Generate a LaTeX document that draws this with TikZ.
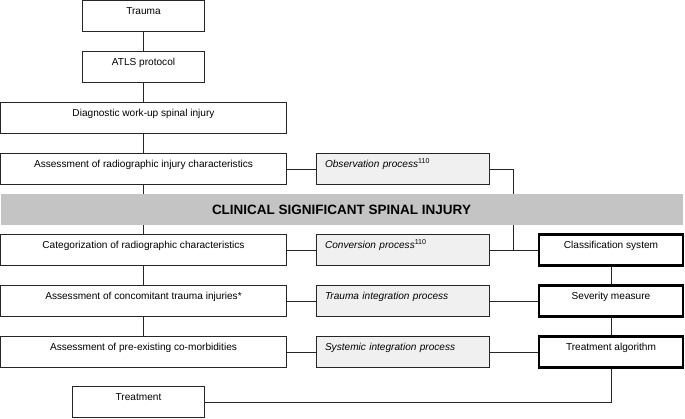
\documentclass[tikz,border=0pt]{standalone}
\usepackage{fontspec}
\setmainfont{Liberation Sans}
\usepackage{tikz}
\usetikzlibrary{calc}

\tikzset{
  stepbox/.style={draw=black!85,line width=0.8pt,minimum height=31pt,inner ysep=4pt,
    text height=10pt,text depth=13pt,font=\fontsize{10.1}{12}\selectfont},
  widebox/.style={stepbox,minimum width=286pt},
  smallbox/.style={stepbox,minimum width=122pt},
  procbox/.style={stepbox,fill=black!6,text width=155pt,inner xsep=9pt,align=left,
    font=\fontsize{10.1}{12}\selectfont\itshape},
  sysbox/.style={stepbox,line width=2.4pt,draw=black,minimum width=144pt},
  band/.style={fill=black!23,draw=none,minimum width=682pt,minimum height=31pt,
    font=\fontsize{13.5}{15}\selectfont\bfseries}
}

\begin{document}
\begin{tikzpicture}[x=1pt,y=1pt,auto,node distance=51pt,line width=0.8pt,draw=black!85]
		\useasboundingbox (0,0) rectangle (685,-418);
		\node[smallbox]      (trauma)  at (143.5,-16)                              {Trauma};
		\node[smallbox]      (atls)    [below of=trauma]                           {ATLS protocol};
		\node[widebox]       (diag)    [below of=atls]                             {Diagnostic work-up spinal injury};
		\node[widebox]       (assess)  [below of=diag]                             {Assessment of radiographic injury characteristics};
		\node[widebox]       (cat)     [node distance=81pt,below of=assess]        {Categorization of radiographic characteristics};
		\node[widebox]       (conc)    [below of=cat]                              {Assessment of concomitant trauma injuries*};
		\node[widebox]       (preex)   [below of=conc]                             {Assessment of pre-existing co-morbidities};
		\node[stepbox,minimum width=132pt] (treat) [node distance=50pt,below of=preex,xshift=-5pt] {Treatment};
		
		\node[procbox]       (obs)     [node distance=259pt,right of=assess]      {Observation process\textsuperscript{\upshape 110}};
		\node[procbox]       (conv)    [node distance=259pt,right of=cat]         {Conversion process\textsuperscript{\upshape 110}};
		\node[procbox]       (trint)   [node distance=259pt,right of=conc]        {Trauma integration process};
		\node[procbox]       (sysint)  [node distance=259pt,right of=preex]       {Systemic integration process};
		
		\node[sysbox]        (class)   [node distance=208.5pt,right of=conv]      {Classification system};
		\node[sysbox]        (sev)     [node distance=208.5pt,right of=trint]     {Severity measure};
		\node[sysbox]        (alg)     [node distance=208.5pt,right of=sysint]    {Treatment algorithm};
		
		\coordinate (junc) at ($(conv.east)!0.5!(class.west)$);
		
		\path (trauma) edge (atls)
		      (atls)   edge (diag)
		      (diag)   edge (assess)
		      (assess) edge (cat)
		      (cat)    edge (conc)
		      (conc)   edge (preex);
		\path (assess) edge (obs)
		      (cat)    edge (conv)
		      (conc)   edge (trint)
		      (preex)  edge (sysint)
		      (conv)   edge (class)
		      (trint)  edge (sev)
		      (sysint) edge (alg)
		      (class)  edge (sev)
		      (sev)    edge (alg);
		      
		\draw (obs.east) -| (junc);
		\draw (alg.south) |- (treat.east);
		
		\node[band,anchor=west] (band) at ($(assess.west)!0.5!(cat.west)$) {CLINICAL SIGNIFICANT SPINAL INJURY};
\end{tikzpicture}
\end{document}
